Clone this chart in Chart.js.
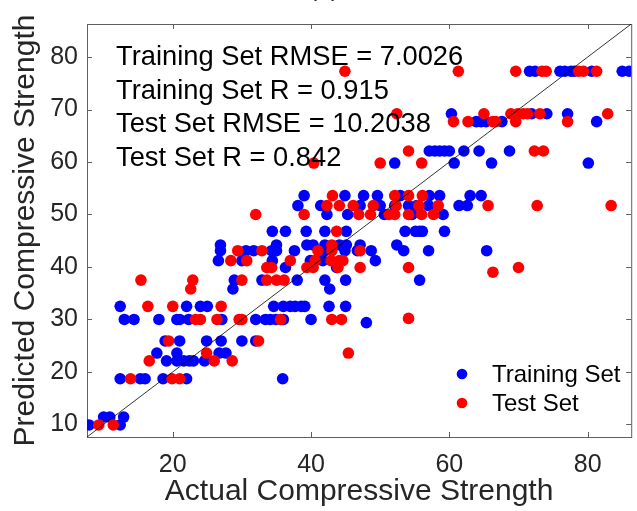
<!DOCTYPE html>
<html lang="en">
<head>
    <meta charset="UTF-8">
    <title>Actual vs Predicted Compressive Strength</title>
    <script src="https://cdn.jsdelivr.net/npm/chart.js"></script>
    <style>
        body {
            margin: 0;
            padding: 0;
            background: #ffffff;
        }

        .chart-container {
            width: 637px;
            height: 511px;
        }
    </style>
</head>
<body>

    <div class="chart-container">
        <canvas id="strengthChart" width="637" height="511"></canvas>
    </div>

    <script>
        // Training set: actual vs predicted (one row per predicted level)
        const trainActual = [
            7.9, 10, 10.9, 12.4, 12.9,
            12.4, 15.3, 16, 18.6, 22, 35.9,
            19.1, 20.6, 21.6, 22.4, 23, 24.6,
            17.7, 20.6, 26.7, 27.7,
            18.9, 21, 24.9, 27, 30, 32,
            13, 14.4, 18, 20.6, 21, 22.3, 27.1, 32, 33.4, 34.1, 34.9, 36, 40, 48,
            12.4, 22, 24, 25, 34.6, 36, 37, 37.7, 38.6, 39.1, 42.6, 45,
            28.7, 42.7,
            28.9, 32.9, 38, 42, 45, 55.7,
            36.3, 43.7,
            26.6, 30, 34.4, 39.9, 41.7, 49.3,
            26.9, 30.6, 31.7, 34.3, 35, 37.6, 42, 44.9, 46.7, 48.7, 53.4, 57, 65.4,
            26.9, 35, 39.4, 40.3, 42, 44.1, 45.1, 47.1, 52.4,
            34.4, 36.3, 39.3, 42, 45.1, 53.6, 55.1, 55.7, 56.1, 59.3,
            42.3, 45.3, 50.6, 54.6, 59.1,
            38.1, 41.4, 47.1, 50, 52.1, 54.1, 55.3, 57, 61.4, 62.6,
            39, 44.9, 47.6, 49.6, 52.9, 57.1, 58.6, 63, 64.6,
            52.1, 60.7, 66.1, 80.1,
            57.1, 57.9, 58.6, 59.3, 60, 62.1, 64.3, 68.7,
            63.9, 64.6, 65.3, 67.6, 81.3,
            60.3, 71.9, 74.1, 77.1,
            71.6, 72.4, 76, 76.7, 77.6, 78.1, 80.6, 85, 86
        ];
        const trainPredicted = [
            9.9, 11.4, 11.4, 9.9, 11.4,
            18.7, 18.7, 18.7, 18.7, 18.7, 18.7,
            22.1, 22.1, 22.1, 22.1, 22.1, 22.1,
            23.6, 23.6, 23.6, 23.6,
            25.9, 25.9, 25.9, 25.9, 25.9, 25.9,
            30, 30, 30, 30, 30, 30, 30, 30, 30, 30, 30, 30, 30, 29.4,
            32.5, 32.5, 32.5, 32.5, 32.5, 32.5, 32.5, 32.5, 32.5, 32.5, 32.5, 32.5,
            35.8, 35.8,
            37.5, 37.5, 37.5, 37.5, 37.5, 37.5,
            39.9, 39.9,
            41.2, 41.2, 41.2, 41.2, 41.2, 41.2,
            43.1, 43.1, 43.1, 43.1, 43.1, 43.1, 43.1, 43.1, 43.1, 43.1, 43.1, 43.1, 43.1,
            44.2, 44.2, 44.2, 44.2, 44.2, 44.2, 44.2, 44.2, 44.2,
            46.8, 46.8, 46.8, 46.8, 46.8, 46.8, 46.8, 46.8, 46.8, 46.8,
            50, 50, 50, 50, 50,
            51.7, 51.7, 51.7, 51.7, 51.7, 51.7, 51.7, 51.7, 51.7, 51.7,
            53.6, 53.6, 53.6, 53.6, 53.6, 53.6, 53.6, 53.6, 53.6,
            59.8, 59.8, 59.8, 59.8,
            62.1, 62.1, 62.1, 62.1, 62.1, 62.1, 62.1, 62.1,
            67.7, 67.7, 67.7, 67.7, 67.7,
            69.2, 69.2, 69.2, 69.2,
            77.3, 77.3, 77.3, 77.3, 77.3, 77.3, 77.3, 77.3, 77.3
        ];

        // Test set: actual vs predicted
        const testActual = [
            9.3, 11.4,
            13.9, 19.9, 21,
            16.6, 26, 28.6,
            24.9, 45.4,
            19.4, 32.4,
            23.3, 24, 26.4, 29.6, 30, 35.6, 43, 44.4, 54.1,
            16.4, 20, 27,
            22.6,
            15.4, 22.9, 30, 33.6, 35, 36.1,
            33.6, 34.3, 39.4, 40.3, 43.9, 47.1, 54.1, 70, 66.3,
            28.4, 30.7, 37, 40.6, 42.9, 44.1, 44.6,
            29.4, 32.9, 41, 43, 47.1,
            43,
            43.7,
            32, 39, 46.9, 48.6, 51.3, 52.1, 54.1, 56, 57.7,
            42.3, 44.1, 46.1, 49, 52.3, 55.6, 58.4, 65.6, 72.7, 83.4,
            43.1, 52.1, 54.1, 56.1,
            40.4, 50, 56,
            54.1, 72.3, 73.6,
            60.6, 62.7, 66.3, 66.7, 69.6, 77.1,
            52.4, 65, 68.9, 69.9, 70.7, 71.3, 73.1, 82.9,
            44.9, 61.3, 69.6, 73.4, 74, 78.7, 79.4, 81.3
        ];
        const testPredicted = [
            9.9, 9.9,
            18.7, 18.7, 18.7,
            22.1, 22.1, 22.1,
            23.6, 23.6,
            25.9, 25.9,
            30, 30, 30, 30, 30, 30, 30, 30, 30.2,
            32.5, 32.5, 32.5,
            35.8,
            37.5, 37.5, 37.5, 37.5, 37.5, 37.5,
            39.9, 39.9, 39.9, 39.9, 39.9, 39.9, 39.9, 39.9, 39,
            41.2, 41.2, 41.2, 41.2, 41.2, 41.2, 41.2,
            43.1, 43.1, 43.1, 43.1, 43.1,
            44.2,
            46.8,
            50, 50, 50, 50, 50, 50, 50, 50, 50,
            51.7, 51.7, 51.7, 51.7, 51.7, 51.7, 51.7, 51.7, 51.7, 51.7,
            53.6, 53.6, 53.6, 53.6,
            59.8, 59.8, 59.8,
            62.1, 62.1, 62.1,
            67.7, 67.7, 67.7, 67.7, 67.7, 67.7,
            69.2, 69.2, 69.2, 69.2, 69.2, 69.2, 69.2, 69.2,
            77.3, 77.3, 77.3, 77.3, 77.3, 77.3, 77.3, 77.3
        ];

        const axisMin = 7.6;
        const axisMax = 86.3;
        const xTicks = [20, 40, 60, 80];
        const yTicks = [10, 20, 30, 40, 50, 60, 70, 80];
        const statsLines = [
            'Training Set RMSE = 7.0026',
            'Training Set R = 0.915',
            'Test Set RMSE = 10.2038',
            'Test Set R = 0.842'
        ];

        const toPoints = (xs, ys) => xs.map((v, i) => ({ x: v, y: ys[i] }));

        // Box, inward ticks, stats text and legend drawn the MATLAB way
        const matlabAxes = {
            id: 'matlabAxes',
            beforeDatasetsDraw(chart) {
                const { ctx, chartArea: a, scales: { x, y } } = chart;
                ctx.save();
                ctx.strokeStyle = '#5f5f5f';
                ctx.lineWidth = 1;
                ctx.strokeRect(a.left + 0.5, a.top + 0.5, a.right - a.left, a.bottom - a.top);
                const len = 5;
                ctx.beginPath();
                xTicks.forEach(v => {
                    const px = Math.round(x.getPixelForValue(v)) + 0.5;
                    ctx.moveTo(px, a.bottom); ctx.lineTo(px, a.bottom - len);
                    ctx.moveTo(px, a.top); ctx.lineTo(px, a.top + len);
                });
                yTicks.forEach(v => {
                    const py = Math.round(y.getPixelForValue(v)) + 0.5;
                    ctx.moveTo(a.left, py); ctx.lineTo(a.left + len, py);
                    ctx.moveTo(a.right, py); ctx.lineTo(a.right - len, py);
                });
                ctx.stroke();
                ctx.restore();
            },
            afterDatasetsDraw(chart) {
                const { ctx } = chart;
                ctx.save();
                // cut-off panel title
                ctx.fillStyle = '#262626';
                ctx.font = '25px "Liberation Sans", Arial, sans-serif';
                ctx.textAlign = 'center';
                ctx.textBaseline = 'alphabetic';
                ctx.fillText('(a)', 324, -4);

                ctx.fillStyle = '#000000';
                ctx.textAlign = 'left';
                ctx.font = '27.3px "Liberation Sans", Arial, sans-serif';
                statsLines.forEach((line, i) => ctx.fillText(line, 116, 65 + i * 33.5));

                // legend
                ctx.font = '24px "Liberation Sans", Arial, sans-serif';
                ctx.textBaseline = 'middle';
                const sets = [chart.data.datasets[1], chart.data.datasets[2]];
                sets.forEach((ds, i) => {
                    const cy = 374 + i * 29;
                    ctx.fillStyle = ds.backgroundColor;
                    ctx.beginPath();
                    ctx.arc(462, cy, 5.3, 0, Math.PI * 2);
                    ctx.fill();
                    ctx.fillStyle = '#000000';
                    ctx.fillText(ds.label, 492, cy + 1);
                });
                ctx.restore();
            }
        };

        new Chart(document.getElementById('strengthChart').getContext('2d'), {
            type: 'scatter',
            data: {
                datasets: [
                    {
                        type: 'line',
                        label: 'y = x',
                        data: [{ x: axisMin, y: axisMin }, { x: axisMax, y: axisMax }],
                        borderColor: '#000000',
                        borderWidth: 0.8,
                        pointRadius: 0,
                        order: 0
                    },
                    {
                        label: 'Training Set',
                        data: toPoints(trainActual, trainPredicted),
                        backgroundColor: '#0000ff',
                        borderWidth: 0,
                        pointRadius: 5.8,
                        order: 2
                    },
                    {
                        label: 'Test Set',
                        data: toPoints(testActual, testPredicted),
                        backgroundColor: '#ff0000',
                        borderWidth: 0,
                        pointRadius: 5.8,
                        order: 1
                    }
                ]
            },
            options: {
                responsive: false,
                animation: false,
                devicePixelRatio: 1,
                layout: { padding: { top: 15, right: 0, bottom: 0, left: 0 } },
                scales: {
                    x: {
                        type: 'linear',
                        min: axisMin,
                        max: axisMax,
                        afterBuildTicks: s => { s.ticks = xTicks.map(v => ({ value: v })); },
                        afterFit: s => { s.height = 74; },
                        grid: { display: false, drawTicks: false },
                        border: { display: false },
                        ticks: {
                            padding: 13,
                            color: '#262626',
                            font: { family: '"Liberation Sans", Arial, sans-serif', size: 25 }
                        },
                        title: {
                            display: true,
                            text: 'Actual Compressive Strength',
                            color: '#262626',
                            padding: { top: 0, bottom: 1 },
                            font: { family: '"Liberation Sans", Arial, sans-serif', size: 30 }
                        }
                    },
                    y: {
                        type: 'linear',
                        min: axisMin,
                        max: axisMax,
                        afterBuildTicks: s => { s.ticks = yTicks.map(v => ({ value: v })); },
                        afterFit: s => { s.width = 87; },
                        grid: { display: false, drawTicks: false },
                        border: { display: false },
                        ticks: {
                            padding: 9,
                            color: '#262626',
                            font: { family: '"Liberation Sans", Arial, sans-serif', size: 25 }
                        },
                        title: {
                            display: true,
                            text: 'Predicted Compressive Strength',
                            color: '#262626',
                            padding: { top: 8, bottom: 0 },
                            font: { family: '"Liberation Sans", Arial, sans-serif', size: 30 }
                        }
                    }
                },
                plugins: {
                    legend: { display: false },
                    tooltip: { enabled: false }
                }
            },
            plugins: [matlabAxes]
        });
    </script>

</body>
</html>
